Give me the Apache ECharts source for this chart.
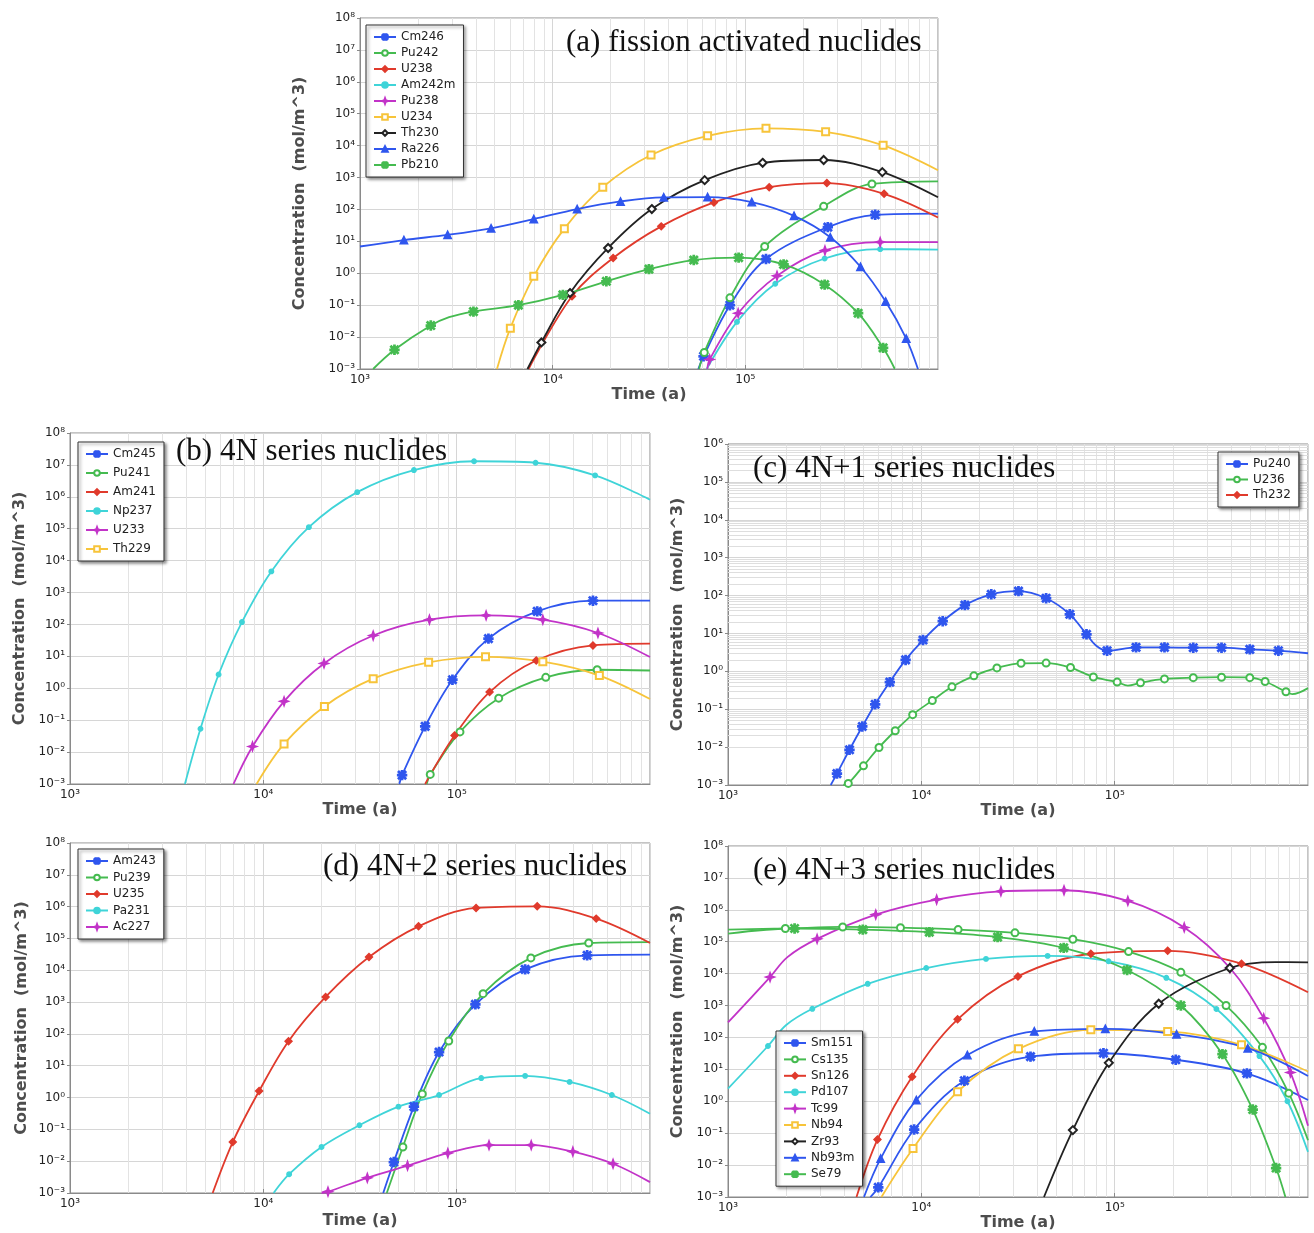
<!DOCTYPE html>
<html><head><meta charset="utf-8">
<script src="https://cdn.jsdelivr.net/npm/echarts/dist/echarts.min.js"></script>
<style>html,body{margin:0;padding:0;background:#fff}#c{width:1314px;height:1233px}</style>
</head><body><div id="c"></div><script>
// ---------- data (time [a], concentration [mol/m^3]) ----------
// Panel (a) fission activated nuclides
const cm246Marks = [[60700,0.0025],[83200,0.1],[128000,2.8],[268000,28],[472000,68]];
const cm246Extra = [[57000,0.001],[1000000,74]];
const pu242Marks = [[61200,0.0033],[83200,0.17],[126000,6.9],[255000,125],[454000,630]];
const pu242Extra = [[57500,0.001],[1000000,760]];
const u238Marks = [[12600,0.19],[20600,3.0],[36600,29.5],[68700,166],[133000,500],[265000,670],[525000,310]];
const u238Extra = [[7500,0.001],[1000000,56]];
const am242mMarks = [[90500,0.03],[143000,0.47],[258000,2.9],[501000,5.7]];
const am242mExtra = [[63000,0.001],[1000000,5.5]];
const pu238Marks = [[65300,0.002],[91800,0.056],[146000,0.83],[259000,5.2],[501000,9.5]];
const pu238Extra = [[63500,0.001],[1000000,9.5]];
const u234Marks = [[6030,0.019],[7980,0.8],[11500,25],[18200,500],[32400,5100],[63700,20400],[128000,35000],[261000,27000],[519000,10200]];
const u234Extra = [[5140,0.001],[1000000,1700]];
const th230Marks = [[8740,0.0068],[12300,0.24],[19400,6.2],[32700,103],[61500,830],[123000,2900],[255000,3550],[514000,1480]];
const th230Extra = [[7400,0.001],[1000000,240]];
const ra226Marks = [[1690,11],[2850,16],[4790,25.6],[7980,50],[13400,103],[22500,178],[37700,240],[63700,245],[108000,170],[179000,63],[276000,13.5],[396000,1.6],[535000,0.13],[684000,0.009]];
const ra226Extra = [[1000,6.9],[787000,0.001]];
const pb210Marks = [[1510,0.004],[2330,0.023],[3880,0.063],[6640,0.10],[11300,0.21],[19000,0.56],[31600,1.35],[54000,2.6],[92300,3.1],[158000,1.9],[258000,0.44],[385000,0.056],[519000,0.0046]];
const pb210Extra = [[1170,0.001],[2900,0.042],[597000,0.001]];
// Panel (b) 4N series
const cm245Marks = [[52200,0.0019],[68700,0.064],[95100,1.85],[146000,36],[261000,257],[507000,555]];
const cm245Extra = [[50500,0.001],[1000000,560]];
const pu241Marks = [[73000,0.002],[104000,0.043],[165000,0.49],[289000,2.2],[533000,3.8]];
const pu241Extra = [[70000,0.001],[1000000,3.6]];
const am241Marks = [[97500,0.033],[148000,0.76],[258000,7.4],[507000,22]];
const am241Extra = [[68700,0.001],[1000000,25]];
const np237Marks = [[4730,0.054],[5870,2.7],[7750,119],[11000,4600],[17200,112000],[30600,1.4e6],[60100,6.9e6],[123000,1.3e7],[256000,1.17e7],[520000,4.7e6]];
const np237Extra = [[3930,0.001],[1000000,8.1e5]];
const u233Marks = [[8790,0.015],[12800,0.39],[20600,6.0],[37000,45],[72300,141],[142000,192],[279000,141],[538000,54]];
const u233Extra = [[7010,0.001],[1000000,9.5]];
const th229Marks = [[12800,0.018],[20700,0.27],[37000,2.0],[71600,6.5],[141000,9.7],[279000,6.8],[547000,2.5]];
const th229Extra = [[9230,0.001],[1000000,0.46]];
// Panel (c) 4N+1 series
const pu240Marks = [[3660,0.002],[4250,0.0085],[4950,0.035],[5770,0.135],[6870,0.52],[8290,2.0],[10200,6.7],[12900,21],[16800,56],[23000,108],[31800,131],[44200,85],[58600,32],[71500,9.5],[91400,3.5],[129000,4.3],[181000,4.3],[255000,4.2],[357000,4.2],[500000,3.8],[703000,3.5]];
const pu240Extra = [[3400,0.001],[80000,4.8],[1000000,3.0]];
const u236Marks = [[4190,0.0011],[5020,0.0032],[6040,0.0098],[7330,0.027],[9020,0.072],[11400,0.17],[14400,0.39],[18700,0.76],[24600,1.23],[32800,1.63],[44200,1.65],[59100,1.26],[77600,0.71],[103000,0.52],[136000,0.50],[181000,0.63],[255000,0.68],[357000,0.70],[500000,0.68],[600000,0.54],[769000,0.29]];
const u236Extra = [[3950,0.001],[117000,0.42],[830000,0.25],[1000000,0.36]];
const th232Marks = [];
const th232Extra = [];
// Panel (d) 4N+2 series
const am243Marks = [[47300,0.0094],[60100,0.52],[81100,27],[125000,850],[226000,10700],[473000,29500]];
const am243Extra = [[41700,0.001],[1000000,31000]];
const pu239Marks = [[52700,0.028],[66400,1.3],[91000,60],[137000,1840],[242000,24500],[482000,72000]];
const pu239Extra = [[43500,0.001],[1000000,77000]];
const u235Marks = [[6950,0.04],[9510,1.6],[13500,59],[21000,1450],[35200,26000],[63500,2.4e5],[126000,9.1e5],[261000,1.02e6],[527000,4.2e5]];
const u235Extra = [[5470,0.001],[1000000,72000]];
const pa231Marks = [[13600,0.0039],[20000,0.028],[31400,0.135],[50000,0.52],[81100,1.2],[134000,4.1],[226000,4.8],[384000,3.1],[635000,1.2]];
const pa231Extra = [[11300,0.001],[1000000,0.31]];
const ac227Marks = [[21600,0.0011],[34500,0.003],[55700,0.0072],[90000,0.018],[147000,0.032],[243000,0.032],[399000,0.020],[644000,0.0083]];
const ac227Extra = [[20000,0.001],[1000000,0.0022]];
// Panel (e) 4N+3 series
const sm151Marks = [[5990,0.002],[9180,0.13],[16700,4.4],[36700,25],[87500,32],[207000,20],[483000,7.5]];
const sm151Extra = [[5450,0.001],[1000000,1.1]];
const cs135Marks = [[1980,2.6e5],[3920,2.9e5],[7800,2.75e5],[15500,2.4e5],[30500,1.9e5],[60800,1.2e5],[118000,49000],[220000,11000],[377000,1000],[581000,49],[795000,1.8]];
const cs135Extra = [[1000,2.4e5],[1000000,0.06]];
const sn126Marks = [[5930,0.063],[8960,5.9],[15400,370],[31600,8200],[75300,42000],[188000,52000],[453000,20500]];
const sn126Extra = [[4620,0.001],[1000000,2600]];
const pd107Marks = [[1610,54],[2730,790],[5280,4800],[10600,15000],[21600,29000],[45000,36000],[92900,24500],[185000,7400],[336000,780],[561000,26],[783000,1.0]];
const pd107Extra = [[1000,2.5],[2000,245],[1000000,0.026]];
const tc99Marks = [[1650,7800],[2890,1.23e5],[5810,7.1e5],[12000,2.1e6],[25800,3.8e6],[54700,4.1e6],[117000,1.9e6],[229000,2.8e5],[395000,15000],[590000,400],[811000,8]];
const tc99Extra = [[1000,295],[2030,3.3e4],[1000000,0.17]];
const nb94Marks = [[9060,0.033],[15400,2.0],[31800,44],[75300,174],[188000,155],[453000,59]];
const nb94Extra = [[6220,0.001],[1000000,8.5]];
const zr93Marks = [[60800,0.125],[93300,16],[169000,1140],[394000,15000]];
const zr93Extra = [[43100,0.001],[680000,23000],[1000000,22600]];
const nb93mMarks = [[6160,0.016],[9420,1.1],[17300,28],[38400,155],[89500,186],[209000,126],[488000,46]];
const nb93mExtra = [[5050,0.001],[1000000,6.2]];
const se79Marks = [[2210,2.6e5],[4980,2.4e5],[11000,2.0e5],[24800,1.4e5],[54500,64000],[116000,13000],[220000,1000],[361000,30],[518000,0.55],[684000,0.0081]];
const se79Extra = [[1000,1.8e5],[764000,0.001]];

// axis ranges (exponents of ten)
const xExpRange = [3, 6];
const yExpRangeMain = [-3, 8];
const yExpRangeC = [-3, 6];
const panelTitles = ['(a) fission activated nuclides','(b) 4N series nuclides','(c) 4N+1 series nuclides','(d) 4N+2 series nuclides','(e) 4N+3 series nuclides'];

// ---------- styling ----------
const BLUE='#2f56ee', GREEN='#45bb50', RED='#e03a2c', CYAN='#3fd4d8', MAGENTA='#c233c8', YELLOW='#f7c43a', BLACK='#222222';
const ASTER = 'path://M8.5,0L11.5,0L11.5,20L8.5,20Z M0,8.5L20,8.5L20,11.5L0,11.5Z M0.94,3.06L3.06,0.94L19.06,16.94L16.94,19.06Z M16.94,0.94L19.06,3.06L3.06,19.06L0.94,16.94Z';
const STAR4 = 'path://M10,0L12.6,7.4L20,10L12.6,12.6L10,20L7.4,12.6L0,10L7.4,7.4Z';
const M = {
  aster:{symbol:ASTER,size:9}, circ:{symbol:'emptyCircle',size:7}, dia:{symbol:'diamond',size:7},
  dot:{symbol:'circle',size:4.5}, plus:{symbol:STAR4,size:9}, sq:{symbol:'emptyRect',size:7},
  odia:{symbol:'emptyDiamond',size:8}, tri:{symbol:'triangle',size:7.5}
};

const panels = [
  { grid:{left:360,top:18,width:578,height:351}, yr:yExpRangeMain, minorY:false,
    legend:{left:366,top:25,gap:4}, title:{left:566,top:27}, xGap:15, yGap:52,
    series:[
      ['Cm246',cm246Marks,cm246Extra,BLUE,M.aster],['Pu242',pu242Marks,pu242Extra,GREEN,M.circ],
      ['U238',u238Marks,u238Extra,RED,M.dia],['Am242m',am242mMarks,am242mExtra,CYAN,M.dot],
      ['Pu238',pu238Marks,pu238Extra,MAGENTA,M.plus],['U234',u234Marks,u234Extra,YELLOW,M.sq],
      ['Th230',th230Marks,th230Extra,BLACK,M.odia],['Ra226',ra226Marks,ra226Extra,BLUE,M.tri],
      ['Pb210',pb210Marks,pb210Extra,GREEN,M.aster]]},
  { grid:{left:70,top:433,width:580,height:351}, yr:yExpRangeMain, minorY:false,
    legend:{left:78,top:442,gap:7}, title:{left:176,top:436}, xGap:13, yGap:42,
    series:[
      ['Cm245',cm245Marks,cm245Extra,BLUE,M.aster],['Pu241',pu241Marks,pu241Extra,GREEN,M.circ],
      ['Am241',am241Marks,am241Extra,RED,M.dia],['Np237',np237Marks,np237Extra,CYAN,M.dot],
      ['U233',u233Marks,u233Extra,MAGENTA,M.plus],['Th229',th229Marks,th229Extra,YELLOW,M.sq]]},
  { grid:{left:728,top:444,width:580,height:341}, yr:yExpRangeC, minorY:true,
    legend:{left:1218,top:452,gap:3.5}, title:{left:753,top:453}, xGap:13, yGap:42,
    series:[
      ['Pu240',pu240Marks,pu240Extra,BLUE,M.aster],['U236',u236Marks,u236Extra,GREEN,M.circ],
      ['Th232',th232Marks,th232Extra,RED,M.dia]]},
  { grid:{left:70,top:843,width:580,height:350}, yr:yExpRangeMain, minorY:false,
    legend:{left:78,top:849,gap:4.5}, title:{left:323,top:851}, xGap:20, yGap:40,
    series:[
      ['Am243',am243Marks,am243Extra,BLUE,M.aster],['Pu239',pu239Marks,pu239Extra,GREEN,M.circ],
      ['U235',u235Marks,u235Extra,RED,M.dia],['Pa231',pa231Marks,pa231Extra,CYAN,M.dot],
      ['Ac227',ac227Marks,ac227Extra,MAGENTA,M.plus]]},
  { grid:{left:728,top:846,width:580,height:351}, yr:yExpRangeMain, minorY:false,
    legend:{left:776,top:1031,gap:4.4}, title:{left:753,top:855}, xGap:16, yGap:42,
    series:[
      ['Sm151',sm151Marks,sm151Extra,BLUE,M.aster],['Cs135',cs135Marks,cs135Extra,GREEN,M.circ],
      ['Sn126',sn126Marks,sn126Extra,RED,M.dia],['Pd107',pd107Marks,pd107Extra,CYAN,M.dot],
      ['Tc99',tc99Marks,tc99Extra,MAGENTA,M.plus],['Nb94',nb94Marks,nb94Extra,YELLOW,M.sq],
      ['Zr93',zr93Marks,zr93Extra,BLACK,M.odia],['Nb93m',nb93mMarks,nb93mExtra,BLUE,M.tri],
      ['Se79',se79Marks,se79Extra,GREEN,M.aster]]}
];

const SUP = {'0':'⁰','1':'¹','2':'²','3':'³','4':'⁴','5':'⁵','6':'⁶','7':'⁷','8':'⁸','9':'⁹','-':'⁻'};
function pow10Label(v){ const e = Math.round(Math.log10(v)); return '10' + String(e).split('').map(c=>SUP[c]).join(''); }
function minorValues(lo, hi){ const out=[]; for(let e=lo;e<hi;e++) for(let k=2;k<=9;k++) out.push(+(k*Math.pow(10,e)).toPrecision(6)); return out; }

const nameStyle = {fontFamily:'DejaVu Sans', fontWeight:'bold', fontSize:16, color:'#4d4d4d'};
const labelStyle = {fontFamily:'DejaVu Sans', fontSize:12, color:'#222'};

const option = {animation:false, backgroundColor:'#fff', grid:[], xAxis:[], yAxis:[], legend:[], title:[], series:[]};

panels.forEach((p, gi) => {
  option.grid.push(Object.assign({show:true, borderColor:'#8a8a8a', borderWidth:1, backgroundColor:'transparent'}, p.grid));
  option.xAxis.push({type:'log', logBase:10, gridIndex:gi, min:Math.pow(10,xExpRange[0]), max:Math.pow(10,xExpRange[1]),
    interval:1, splitNumber:xExpRange[1]-xExpRange[0],
    axisLine:{show:true, onZero:false, lineStyle:{color:'#8a8a8a'}}, axisTick:{show:true, inside:true, length:4, lineStyle:{color:'#8a8a8a'}},
    axisLabel:Object.assign({formatter:pow10Label, showMaxLabel:false, margin:5}, labelStyle),
    splitLine:{show:true, lineStyle:{color:'#d6d6d6', width:1}},
    name:'Time (a)', nameLocation:'middle', nameGap:p.xGap, nameTextStyle:nameStyle});
  option.yAxis.push({type:'log', logBase:10, gridIndex:gi, min:Math.pow(10,p.yr[0]), max:Math.pow(10,p.yr[1]),
    interval:1, splitNumber:p.yr[1]-p.yr[0],
    axisLine:{show:true, onZero:false, lineStyle:{color:'#8a8a8a'}}, axisTick:{show:true, inside:false, length:3, lineStyle:{color:'#8a8a8a'}},
    axisLabel:Object.assign({formatter:pow10Label, margin:5}, labelStyle),
    splitLine:{show:true, lineStyle:{color:'#d6d6d6', width:1}},
    name:'Concentration  (mol/m^3)', nameLocation:'middle', nameGap:p.yGap, nameRotate:90, nameTextStyle:nameStyle});
  option.title.push({text:panelTitles[gi], left:p.title.left, top:p.title.top, padding:0,
    textStyle:{fontFamily:'Liberation Serif', fontSize:31, fontWeight:'normal', color:'#111'}});
  option.legend.push({orient:'vertical', left:p.legend.left, top:p.legend.top, itemGap:p.legend.gap,
    itemWidth:22, itemHeight:7, padding:[6,8,6,7], selectedMode:false,
    backgroundColor:'#fff', borderColor:'#333', borderWidth:1,
    shadowColor:'rgba(0,0,0,0.45)', shadowBlur:3, shadowOffsetX:2, shadowOffsetY:2,
    textStyle:{fontFamily:'DejaVu Sans', fontSize:12, color:'#222', lineHeight:12},
    data:p.series.map(s=>s[0])});
  p.series.forEach((s, si) => {
    const [name, marks, extra, color, mk] = s;
    const pts = marks.map(v=>({v, m:true})).concat(extra.map(v=>({v, m:false})));
    pts.sort((a,b)=>a.v[0]-b.v[0]);
    const data = pts.map(o => o.m ? {value:o.v} : {value:o.v, symbol:'none'});
    const ser = {type:'line', name, xAxisIndex:gi, yAxisIndex:gi, data,
      smooth:0.35, symbol:mk.symbol, symbolSize:mk.size, showSymbol:true, showAllSymbol:true,
      lineStyle:{color, width:1.8}, itemStyle:{color, borderColor:color, borderWidth:1.4},
      emphasis:{disabled:true}, clip:true, animation:false, z:3};
    if (si === 0) {
      const ml = minorValues(xExpRange[0], xExpRange[1]).map(v=>({xAxis:v, lineStyle:{color:'#e3e3e3'}}));
      if (p.minorY) minorValues(p.yr[0], p.yr[1]).forEach(v=>ml.push({yAxis:v, lineStyle:{color:'#dedede'}}));
      ser.markLine = {silent:true, symbol:['none','none'], label:{show:false}, z:1, animation:false,
        lineStyle:{color:'#e3e3e3', width:1, type:'solid'}, emphasis:{disabled:true}, data:ml};
    }
    option.series.push(ser);
  });
});

const chart = echarts.init(document.getElementById('c'), null, {renderer:'canvas'});
chart.setOption(option);
</script></body></html>
